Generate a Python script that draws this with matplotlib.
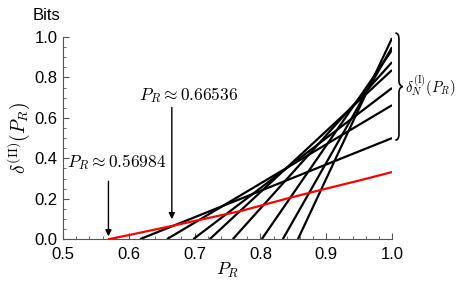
import numpy as np
import matplotlib
matplotlib.use("Agg")
import matplotlib.pyplot as plt
from matplotlib.path import Path
from matplotlib.patches import PathPatch

plt.rcParams["font.family"] = ["Liberation Sans", "DejaVu Sans"]
plt.rcParams["mathtext.fontset"] = "cm"

# black lines: start on x axis, end at P_R = 1
line_start = [0.617, 0.658, 0.698, 0.723, 0.758, 0.802, 0.834, 0.857]
line_end_val = [0.50, 0.663, 0.748, 0.837, 0.876, 0.936, 0.950, 0.995]

# red curve
red_x = [0.5698, 0.60, 0.665, 0.70, 0.77, 0.845, 0.90, 0.95, 1.0]
red_y = [0.0, 0.020, 0.065, 0.090, 0.139, 0.205, 0.250, 0.290, 0.332]

fig = plt.figure(figsize=(4.58, 2.83), dpi=100)
ax = fig.add_axes([0.1376, 0.155, 0.7184, 0.714])

for x0, y1 in zip(line_start, line_end_val):
    ax.plot([x0, 1.0], [0.0, y1], color="black", lw=1.6, solid_capstyle="butt")
ax.plot(red_x, red_y, color="red", lw=1.6)

ax.set_xlim(0.5, 1.0)
ax.set_ylim(0.0, 1.0)
ax.set_xticks(np.arange(0.5, 1.01, 0.1))
ax.set_yticks(np.arange(0.0, 1.01, 0.2))
ax.set_xticks(np.arange(0.5, 1.001, 0.02), minor=True)
ax.set_yticks(np.arange(0.0, 1.001, 0.05), minor=True)
ax.xaxis.set_major_formatter(plt.FormatStrFormatter("%.1f"))
ax.yaxis.set_major_formatter(plt.FormatStrFormatter("%.1f"))
ax.tick_params(which="both", direction="in", labelsize=12, color="#555555")
ax.tick_params(axis="x", pad=6)
ax.tick_params(axis="y", pad=4)
ax.tick_params(which="major", length=4)
ax.tick_params(which="minor", length=2.5)
ax.spines["top"].set_visible(False)
ax.spines["right"].set_visible(False)
for s in ["left", "bottom"]:
    ax.spines[s].set_color("#555555")

ax.set_xlabel(r"$P_R$", fontsize=13, labelpad=-1)
ax.set_ylabel(r"$\delta^{(\mathrm{II})}(P_R)$", fontsize=14, labelpad=2)
ax.text(-0.05, 1.07, "Bits", transform=ax.transAxes, fontsize=12, ha="center", va="bottom")

# annotations
ax.annotate("", xy=(0.66536, 0.085), xytext=(0.66536, 0.665),
            arrowprops=dict(arrowstyle="-|>", color="black", lw=1.0, mutation_scale=9))
ax.text(0.691, 0.713, r"$P_R \approx 0.66536$", fontsize=12.5, ha="center", va="center")
ax.annotate("", xy=(0.569, 0.0), xytext=(0.569, 0.30),
            arrowprops=dict(arrowstyle="-|>", color="black", lw=1.0, mutation_scale=9))
ax.text(0.582, 0.38, r"$P_R \approx 0.56984$", fontsize=12.5, ha="center", va="center")

# curly brace on the right
bx, y0, y1 = 1.005, 0.49, 1.02
ym = (y0 + y1) / 2
w = 0.0055
verts = [(bx, y1), (bx + w, y1), (bx + w, y1 - 0.03), (bx + w, y1 - 0.06),
         (bx + w, ym + 0.03), (bx + w, ym + 0.005), (bx + 2 * w, ym),
         (bx + w, ym - 0.005), (bx + w, ym - 0.03), (bx + w, ym - 0.06),
         (bx + w, y0 + 0.03), (bx + w, y0), (bx, y0)]
codes = [Path.MOVETO, Path.CURVE3, Path.CURVE3, Path.LINETO,
         Path.LINETO, Path.CURVE3, Path.CURVE3, Path.CURVE3, Path.CURVE3,
         Path.LINETO, Path.LINETO, Path.CURVE3, Path.CURVE3]
ax.add_patch(PathPatch(Path(verts, codes), fill=False, lw=1.2, clip_on=False))
ax.text(1.019, ym, r"$\delta_N^{(\mathrm{I})}(P_R)$", fontsize=10.5, ha="left", va="center")

fig.savefig("out.png", dpi=100)
